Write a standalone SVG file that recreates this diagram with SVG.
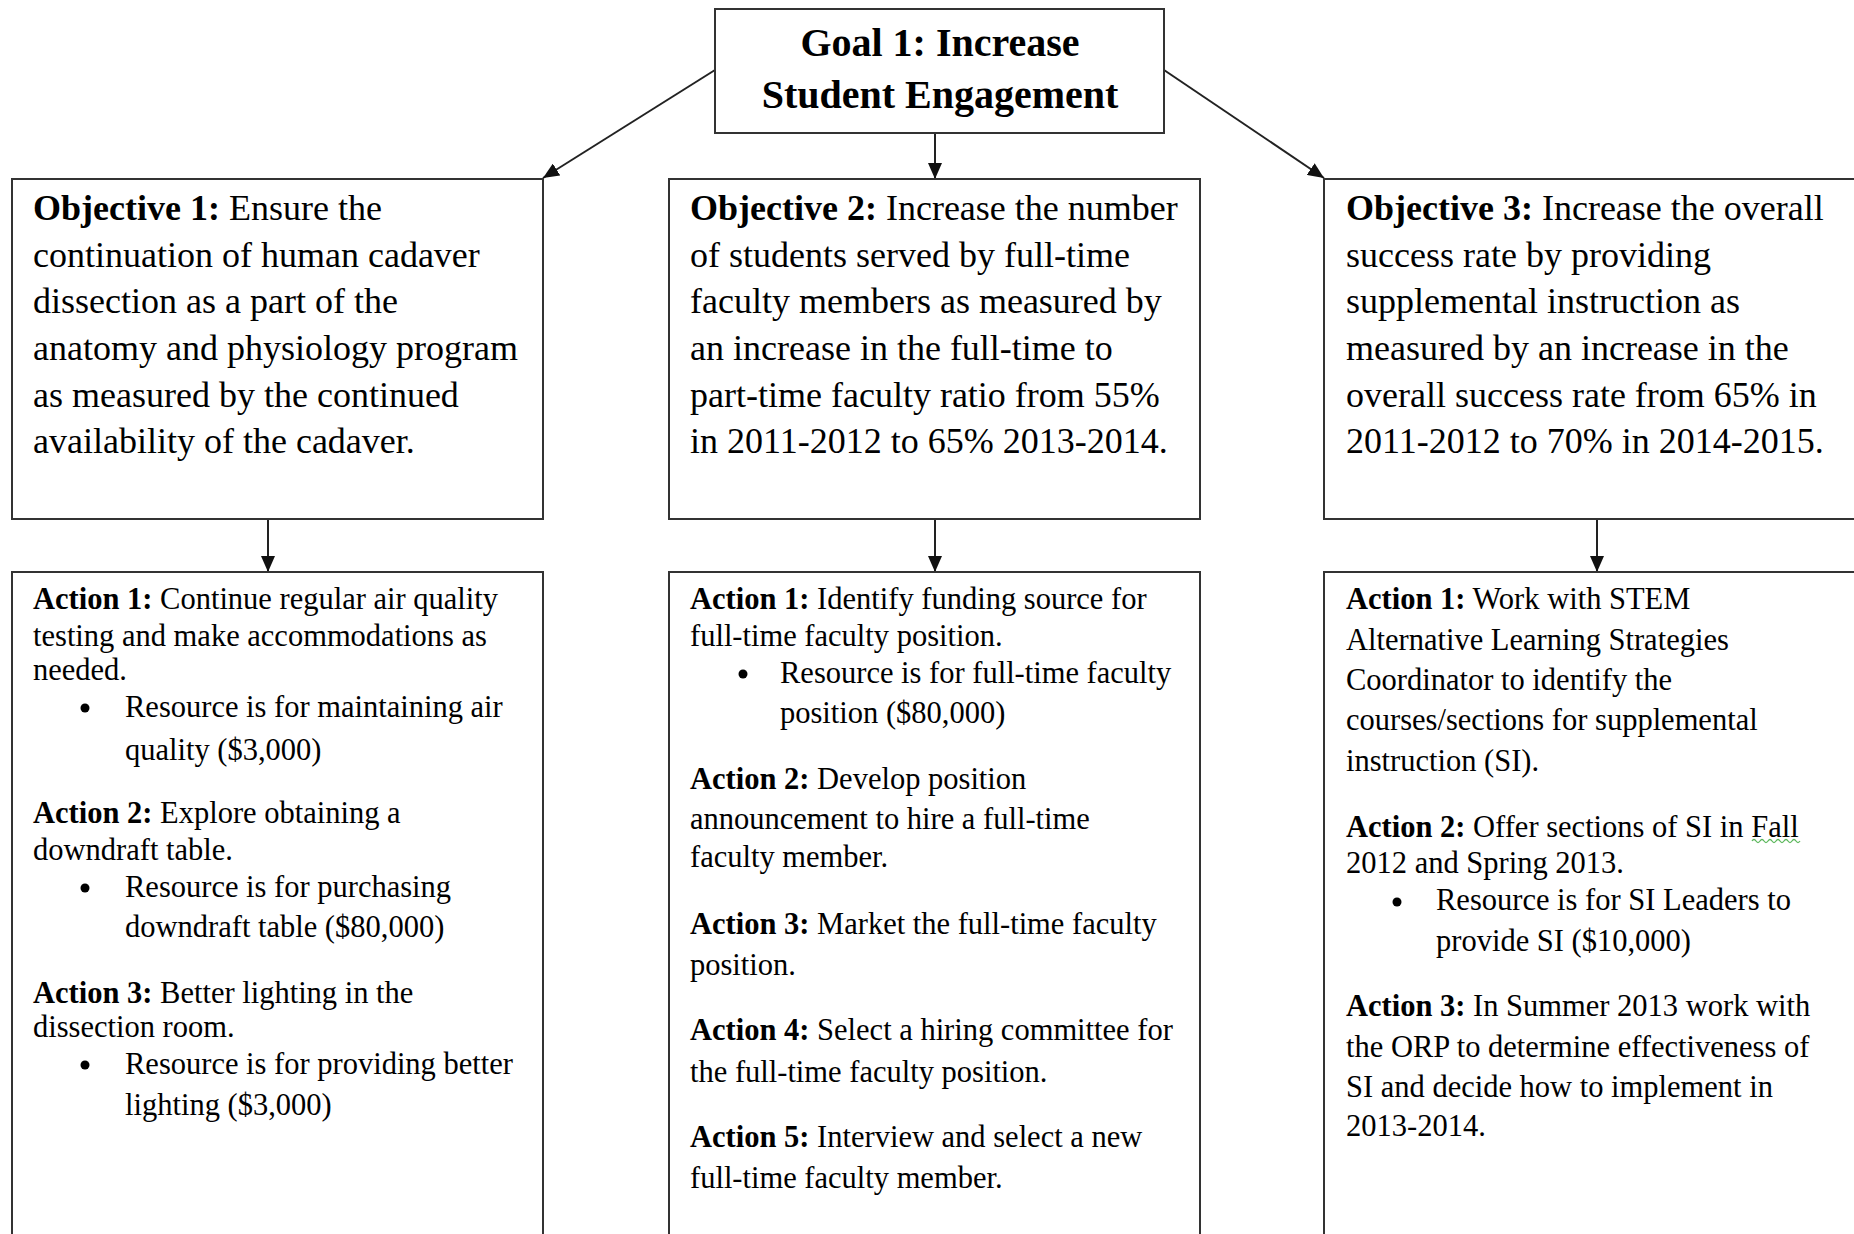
<svg xmlns="http://www.w3.org/2000/svg" width="1854" height="1234" viewBox="0 0 1854 1234">
<style>
.box{fill:#fff;stroke:#333;stroke-width:2}
.con{stroke:#222;stroke-width:2;fill:none}
.goal{font-family:"Liberation Serif","Times New Roman",serif;font-weight:bold;font-size:40px;fill:#000;text-anchor:middle}
.obj{font-family:"Liberation Serif","Times New Roman",serif;font-size:36px;fill:#000}
.act{font-family:"Liberation Serif","Times New Roman",serif;font-size:30.5px;fill:#000}
.b{font-weight:bold}
.dot{fill:#000}
</style>
<defs>
<marker id="arr" markerUnits="userSpaceOnUse" markerWidth="16" markerHeight="14" viewBox="0 0 16 14" refX="16" refY="7" orient="auto">
<path d="M0,0 L16,7 L0,14 Z" fill="#111"/>
</marker>
</defs>
<rect width="1854" height="1234" fill="#fff"/>

<g id="connectors">
<line class="con" x1="715" y1="70" x2="543" y2="178" marker-end="url(#arr)"/>
<line class="con" x1="935" y1="133" x2="935" y2="179" marker-end="url(#arr)"/>
<line class="con" x1="1164" y1="70" x2="1324" y2="178" marker-end="url(#arr)"/>
<line class="con" x1="268" y1="519" x2="268" y2="572" marker-end="url(#arr)"/>
<line class="con" x1="935" y1="519" x2="935" y2="572" marker-end="url(#arr)"/>
<line class="con" x1="1597" y1="519" x2="1597" y2="572" marker-end="url(#arr)"/>
</g>

<g id="goal">
<rect class="box" x="715" y="9" width="449" height="124"/>
<text class="goal" x="940" y="56">Goal 1: Increase</text>
<text class="goal" x="940" y="108">Student  Engagement</text>
</g>

<g id="objective1">
<rect class="box" x="12" y="179" width="531" height="340"/>
<text class="obj" x="33" y="220"><tspan class="b">Objective 1:</tspan> Ensure the</text>
<text class="obj" x="33" y="267">continuation of human cadaver</text>
<text class="obj" x="33" y="313">dissection as a part of the</text>
<text class="obj" x="33" y="360">anatomy and physiology program</text>
<text class="obj" x="33" y="407">as measured by the continued</text>
<text class="obj" x="33" y="453">availability of the cadaver.</text>
</g>

<g id="objective2">
<rect class="box" x="669" y="179" width="531" height="340"/>
<text class="obj" x="690" y="220"><tspan class="b">Objective 2:</tspan> Increase the number</text>
<text class="obj" x="690" y="267">of students served by full-time</text>
<text class="obj" x="690" y="313">faculty members as measured by</text>
<text class="obj" x="690" y="360">an increase in the full-time to</text>
<text class="obj" x="690" y="407">part-time faculty ratio from 55%</text>
<text class="obj" x="690" y="453">in 2011-2012 to 65% 2013-2014.</text>
</g>

<g id="objective3">
<rect class="box" x="1324" y="179" width="560" height="340"/>
<text class="obj" x="1346" y="220"><tspan class="b">Objective 3:</tspan> Increase the overall</text>
<text class="obj" x="1346" y="267">success rate by providing</text>
<text class="obj" x="1346" y="313">supplemental instruction as</text>
<text class="obj" x="1346" y="360">measured by an increase in the</text>
<text class="obj" x="1346" y="407">overall success rate from 65% in</text>
<text class="obj" x="1346" y="453">2011-2012 to 70% in 2014-2015.</text>
</g>

<g id="actions1">
<rect class="box" x="12" y="572" width="531" height="700"/>
<text class="act" x="33" y="609"><tspan class="b">Action 1:</tspan> Continue regular  air quality</text>
<text class="act" x="33" y="646">testing and make accommodations as</text>
<text class="act" x="33" y="680">needed.</text>
<circle class="dot" cx="85" cy="708" r="4.5"/>
<text class="act" x="125" y="717">Resource is for maintaining air</text>
<text class="act" x="125" y="760">quality ($3,000)</text>
<text class="act" x="33" y="823"><tspan class="b">Action 2:</tspan> Explore obtaining a</text>
<text class="act" x="33" y="860">downdraft table.</text>
<circle class="dot" cx="85" cy="888" r="4.5"/>
<text class="act" x="125" y="897">Resource is for purchasing</text>
<text class="act" x="125" y="937">downdraft table ($80,000)</text>
<text class="act" x="33" y="1003"><tspan class="b">Action 3:</tspan> Better lighting in the</text>
<text class="act" x="33" y="1037">dissection room.</text>
<circle class="dot" cx="85" cy="1065" r="4.5"/>
<text class="act" x="125" y="1074">Resource is for providing better</text>
<text class="act" x="125" y="1115">lighting ($3,000)</text>
</g>

<g id="actions2">
<rect class="box" x="669" y="572" width="531" height="700"/>
<text class="act" x="690" y="609"><tspan class="b">Action 1:</tspan> Identify funding source for</text>
<text class="act" x="690" y="646">full-time  faculty position.</text>
<circle class="dot" cx="743" cy="674" r="4.5"/>
<text class="act" x="780" y="683">Resource is for full-time  faculty</text>
<text class="act" x="780" y="723">position  ($80,000)</text>
<text class="act" x="690" y="789"><tspan class="b">Action 2:</tspan> Develop position</text>
<text class="act" x="690" y="829">announcement to hire a full-time</text>
<text class="act" x="690" y="867">faculty member.</text>
<text class="act" x="690" y="934"><tspan class="b">Action 3:</tspan> Market the full-time  faculty</text>
<text class="act" x="690" y="975">position.</text>
<text class="act" x="690" y="1040"><tspan class="b">Action 4:</tspan> Select a hiring  committee for</text>
<text class="act" x="690" y="1082">the full-time  faculty position.</text>
<text class="act" x="690" y="1147"><tspan class="b">Action 5:</tspan> Interview and select  a new</text>
<text class="act" x="690" y="1188">full-time  faculty member.</text>
</g>

<g id="actions3">
<rect class="box" x="1324" y="572" width="560" height="700"/>
<text class="act" x="1346" y="609"><tspan class="b">Action 1:</tspan> Work with STEM</text>
<text class="act" x="1346" y="650">Alternative Learning  Strategies</text>
<text class="act" x="1346" y="690">Coordinator to identify the</text>
<text class="act" x="1346" y="730">courses/sections  for supplemental</text>
<text class="act" x="1346" y="771">instruction (SI).</text>
<text class="act" x="1346" y="837"><tspan class="b">Action 2:</tspan> Offer sections of SI in Fall</text>
<path d="M1752,841 q2,-3 4,0 t4,0 t4,0 t4,0 t4,0 t4,0 t4,0 t4,0 t4,0 t4,0 t4,0 t4,0" fill="none" stroke="#5cb85c" stroke-width="1.3"/>
<text class="act" x="1346" y="873">2012 and Spring 2013.</text>
<circle class="dot" cx="1397" cy="902" r="4.5"/>
<text class="act" x="1436" y="910">Resource is for SI Leaders to</text>
<text class="act" x="1436" y="951">provide SI ($10,000)</text>
<text class="act" x="1346" y="1016"><tspan class="b">Action 3:</tspan> In Summer 2013 work with</text>
<text class="act" x="1346" y="1057">the ORP to determine effectiveness of</text>
<text class="act" x="1346" y="1097">SI and decide how to implement  in</text>
<text class="act" x="1346" y="1136">2013-2014.</text>
</g>
</svg>
